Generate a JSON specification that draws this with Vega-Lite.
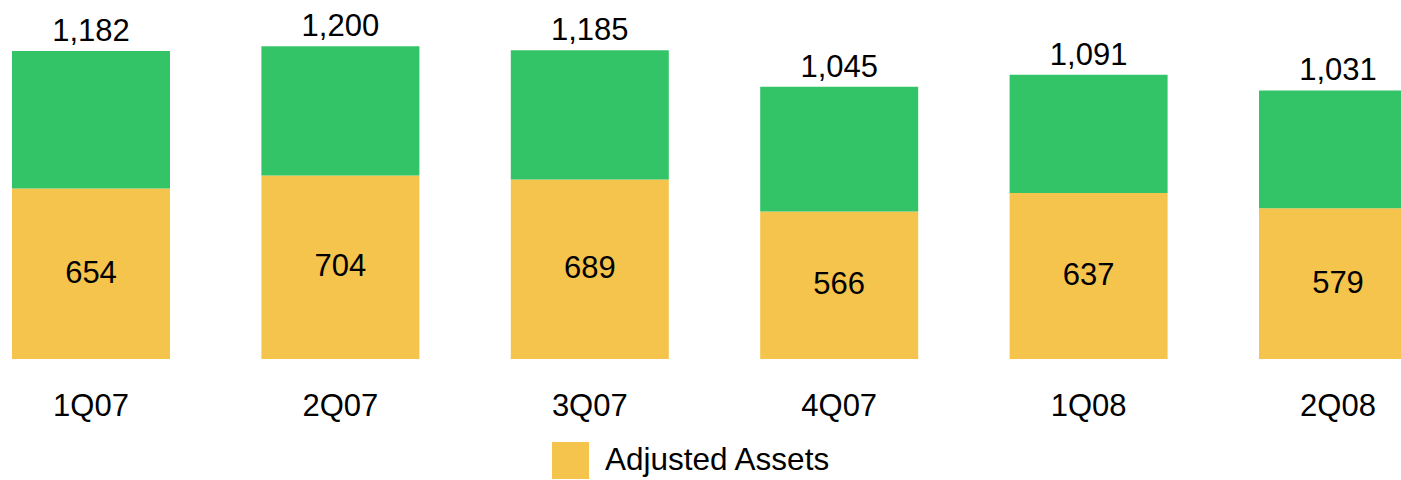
{
  "$schema": "https://vega.github.io/schema/vega-lite/v6.json",
  "width": 1401,
  "height": 359,
  "autosize": {"type": "none"},
  "padding": {"left": 0, "top": 0, "right": 0, "bottom": 121},
  "background": "white",
  "config": {"view": {"stroke": null}, "font": "Liberation Sans"},
  "datasets": {
    "segments": [
      {"quarter": "1Q07", "series": "Adjusted Assets", "value": 654},
      {"quarter": "1Q07", "series": "Other", "value": 528},
      {"quarter": "2Q07", "series": "Adjusted Assets", "value": 704},
      {"quarter": "2Q07", "series": "Other", "value": 496},
      {"quarter": "3Q07", "series": "Adjusted Assets", "value": 689},
      {"quarter": "3Q07", "series": "Other", "value": 496},
      {"quarter": "4Q07", "series": "Adjusted Assets", "value": 566},
      {"quarter": "4Q07", "series": "Other", "value": 479},
      {"quarter": "1Q08", "series": "Adjusted Assets", "value": 637},
      {"quarter": "1Q08", "series": "Other", "value": 454},
      {"quarter": "2Q08", "series": "Adjusted Assets", "value": 579},
      {"quarter": "2Q08", "series": "Other", "value": 452}
    ],
    "totals": [
      {"quarter": "1Q07", "total": 1182},
      {"quarter": "2Q07", "total": 1200},
      {"quarter": "3Q07", "total": 1185},
      {"quarter": "4Q07", "total": 1045},
      {"quarter": "1Q08", "total": 1091},
      {"quarter": "2Q08", "total": 1031}
    ]
  },
  "encoding": {
    "x": {
      "field": "quarter",
      "type": "nominal",
      "scale": {
        "domain": ["1Q07", "2Q07", "3Q07", "4Q07", "1Q08", "2Q08"],
        "range": [12, 1417],
        "paddingInner": 0.3665,
        "paddingOuter": 0
      },
      "axis": {
        "title": null,
        "domain": false,
        "ticks": false,
        "grid": false,
        "labelAngle": 0,
        "labelFontSize": 31,
        "labelPadding": 32,
        "labelColor": "#000000",
        "labelFont": "Liberation Sans"
      }
    }
  },
  "layer": [
    {
      "data": {"name": "segments"},
      "mark": {"type": "bar", "clip": true},
      "encoding": {
        "y": {
          "field": "value",
          "type": "quantitative",
          "stack": "zero",
          "scale": {"domain": [0, 1378], "nice": false, "zero": true},
          "axis": null
        },
        "order": {"field": "series", "type": "nominal", "sort": "ascending"},
        "color": {
          "field": "series",
          "type": "nominal",
          "scale": {"domain": ["Adjusted Assets", "Other"], "range": ["#F5C44C", "#34C468"]},
          "legend": {
            "values": ["Adjusted Assets"],
            "title": null,
            "orient": "none",
            "legendX": 552,
            "legendY": 442,
            "symbolType": "square",
            "symbolSize": 1369,
            "symbolStrokeWidth": 0,
            "symbolOpacity": 1,
            "labelFontSize": 31.5,
            "labelOffset": 16,
            "labelLimit": 400,
            "labelColor": "#000000",
            "labelFont": "Liberation Sans"
          }
        }
      }
    },
    {
      "data": {"name": "segments"},
      "transform": [
        {"filter": "datum.series === 'Adjusted Assets'"},
        {"calculate": "datum.value / 2", "as": "mid"}
      ],
      "mark": {"type": "text", "fontSize": 31, "baseline": "middle", "align": "center", "color": "#000000"},
      "encoding": {
        "y": {"field": "mid", "type": "quantitative"},
        "text": {"field": "value", "type": "quantitative", "format": ","}
      }
    },
    {
      "data": {"name": "totals"},
      "mark": {"type": "text", "fontSize": 31, "baseline": "alphabetic", "align": "center", "dy": -10, "color": "#000000"},
      "encoding": {
        "y": {"field": "total", "type": "quantitative"},
        "text": {"field": "total", "type": "quantitative", "format": ","}
      }
    }
  ]
}
